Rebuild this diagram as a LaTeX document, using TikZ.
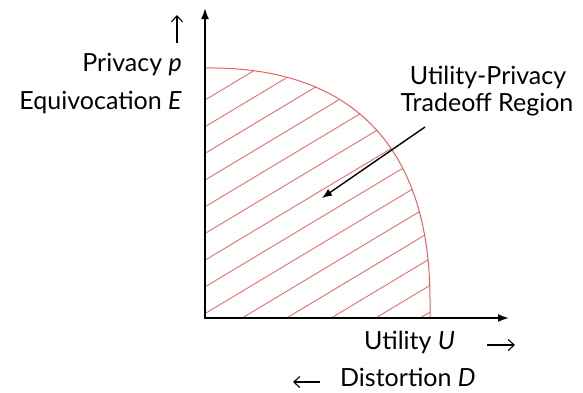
\documentclass[tikz,border=0pt]{standalone}
\usepackage{fontspec}
\setmainfont{Lato}
\usetikzlibrary{arrows.meta}
\definecolor{hatchred}{RGB}{232,96,96}
\tikzset{
  axis/.style={line width=1.8pt,-{Latex[length=11pt,width=8pt]}},
  lbl/.style={inner sep=0pt,font=\fontsize{25}{29}\selectfont},
  txtarrow/.style={line width=1.1pt,-{Straight Barb[length=6pt,width=11pt]}},
  pointer/.style={line width=1.4pt,-{Latex[length=10pt,width=8pt]}},
  hatch/.style={hatchred,line width=0.8pt},
  bound/.style={hatchred,line width=1pt}
}
\begin{document}
\begin{tikzpicture}[x=1pt,y=-1pt]
\useasboundingbox (0,0) rectangle (583,392);
% region
\begin{scope}
  \clip (205,318) -- (205,68) .. controls (355,66) and (430,150) .. (430,300) -- (430,318) -- cycle;
  \foreach \k in {0,...,16} {
    \draw[hatch] (205,{100+26.7*\k}) -- (605,{100+26.7*\k-0.6*400});
  }
\end{scope}
\draw[bound] (205,68) .. controls (355,66) and (430,150) .. (430,300) -- (430,318);
% axes
\coordinate (O) at (205,319);
\coordinate (Ytip) at (205,8);
\coordinate (Xtip) at (509,318);
\coordinate (Ostart) at (204,318);
\draw[axis] (O) -- (Ytip);
\draw[axis] (Ostart) -- (Xtip);
% labels
\node[lbl,anchor=east] (priv) at (182,65) {Privacy \textit{p}};
\node[lbl,anchor=east] (equiv) at (182,102) {Equivocation \textit{E}};
\node[lbl] (reg1) at (488,77) {Utility-Privacy};
\node[lbl] (reg2) at (487,105) {Tradeoff Region};
\node[lbl,anchor=west] (util) at (364,342) {Utility \textit{U}};
\node[lbl,anchor=west] (dist) at (340,377) {Distortion \textit{D}};
% text arrows
\coordinate (ua0) at (177,43);
\coordinate (ua1) at (177,15);
\draw[txtarrow] (ua0) -- (ua1);
\coordinate (ra0) at (487,345);
\coordinate (ra1) at (515,345);
\draw[txtarrow] (ra0) -- (ra1);
\coordinate (la0) at (320,382);
\coordinate (la1) at (293,382);
\draw[txtarrow] (la0) -- (la1);
% pointer
\coordinate (pstart) at (425,127);
\coordinate (pend) at (322,198);
\draw[pointer] (pstart) -- (pend);
\end{tikzpicture}
\end{document}
